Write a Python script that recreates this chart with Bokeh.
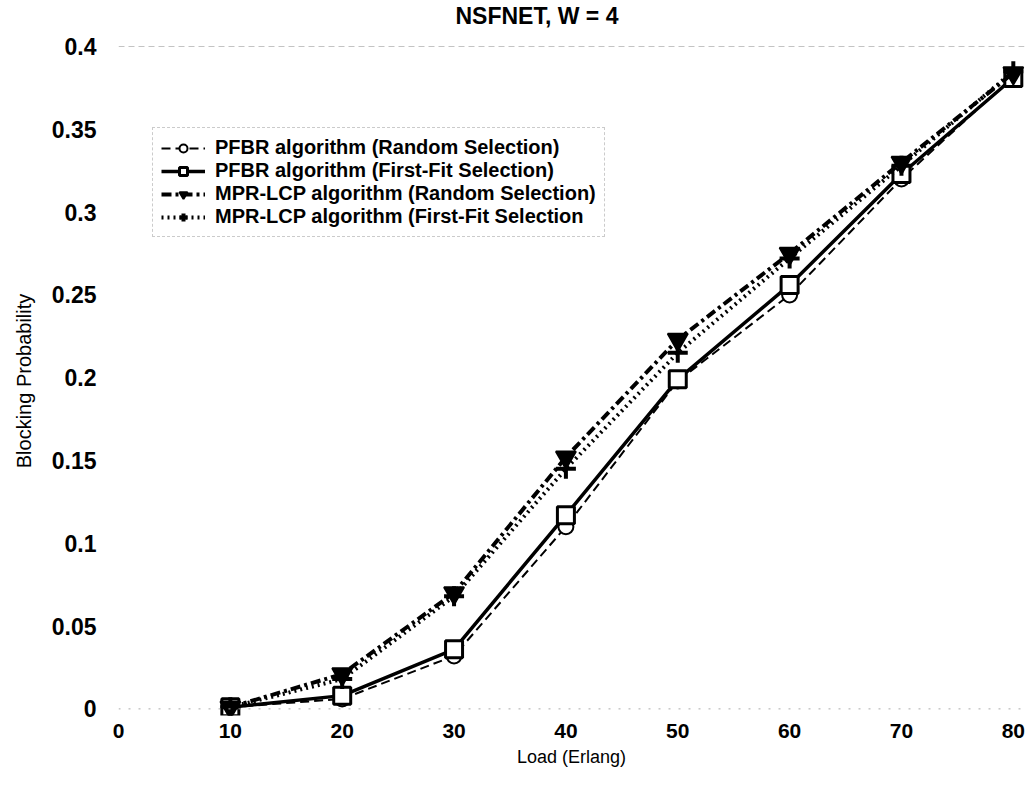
from bokeh.plotting import figure
from bokeh.models import Range1d, Legend, LegendItem, Span, FixedTicker, Title
from bokeh.embed import file_html
from bokeh.resources import INLINE

load = [10, 20, 30, 40, 50, 60, 70, 80]
pfbr_random = [0.001, 0.006, 0.032, 0.110, 0.198, 0.250, 0.320, 0.382]
pfbr_firstfit = [0.001, 0.008, 0.036, 0.117, 0.199, 0.256, 0.323, 0.381]
mpr_random = [0.001, 0.021, 0.070, 0.152, 0.223, 0.275, 0.330, 0.384]
mpr_firstfit = [0.001, 0.018, 0.068, 0.145, 0.215, 0.272, 0.328, 0.385]

x_ticks = [0, 10, 20, 30, 40, 50, 60, 70, 80]
y_ticks = [0, 0.05, 0.1, 0.15, 0.2, 0.25, 0.3, 0.35, 0.4]
y_tick_labels = {0: "0", 0.05: "0.05", 0.1: "0.1", 0.15: "0.15", 0.2: "0.2",
                 0.25: "0.25", 0.3: "0.3", 0.35: "0.35", 0.4: "0.4"}

FONT = "Liberation Sans"

p = figure(width=1033, height=804, output_backend="svg", toolbar_location=None,
           x_range=Range1d(0, 81), y_range=Range1d(-0.004, 0.4),
           min_border_left=118, min_border_right=9, min_border_top=2,
           min_border_bottom=89, title=None)

# spacer (closest to frame) then real title above it
p.add_layout(Title(text=" ", text_font_size="14px", standoff=0), "above")
p.add_layout(Title(text="NSFNET, W = 4", align="left", offset=337,
                   text_font=FONT, text_font_size="23px", text_color="black",
                   text_font_style="bold", standoff=0), "above")

p.xgrid.visible = False
p.ygrid.visible = False
p.outline_line_color = None

for ax in (p.xaxis[0], p.yaxis[0]):
    ax.axis_line_color = None
    ax.major_tick_line_color = None
    ax.minor_tick_line_color = None
    ax.major_label_text_font = FONT
    ax.major_label_text_font_style = "bold"
    ax.major_label_text_color = "black"
    ax.axis_label_text_font = FONT
    ax.axis_label_text_color = "black"
    ax.axis_label_text_font_style = "normal"

p.xaxis.major_label_text_font_size = "21px"
p.yaxis.major_label_text_font_size = "23px"
p.xaxis.axis_label_text_font_size = "18px"
p.yaxis.axis_label_text_font_size = "20px"
p.xaxis.ticker = FixedTicker(ticks=x_ticks)
p.yaxis.ticker = FixedTicker(ticks=y_ticks)
p.yaxis.major_label_overrides = y_tick_labels
p.xaxis.axis_label = "Load (Erlang)"
p.yaxis.axis_label = "Blocking Probability"
p.xaxis.major_label_standoff = 2
p.yaxis.major_label_standoff = 16
p.xaxis.axis_label_standoff = 6
p.yaxis.axis_label_standoff = 14

p.add_layout(Span(location=0.4, dimension="width", line_color="#888888",
                  line_dash="6 4", line_width=1))
p.add_layout(Span(location=0, dimension="width", line_color="#aaaaaa",
                  line_dash="2 8", line_width=1))

l1 = p.line(load, pfbr_random, line_color="black", line_width=2, line_dash="9 5")
m1 = p.scatter(load, pfbr_random, marker="circle", size=15, fill_color="white",
               line_color="black", line_width=2)
l2 = p.line(load, pfbr_firstfit, line_color="black", line_width=3.5)
m2 = p.scatter(load, pfbr_firstfit, marker="square", size=17, fill_color="white",
               line_color="black", line_width=3)
l3 = p.line(load, mpr_random, line_color="black", line_width=4, line_dash="10 4 3 4")
m3 = p.scatter(load, mpr_random, marker="inverted_triangle", size=20,
               fill_color="black", line_color="black", line_width=2)
l4 = p.line(load, mpr_firstfit, line_color="black", line_width=4, line_dash="2 4")
m4 = p.scatter(load, mpr_firstfit, marker="cross", size=20,
               line_color="black", line_width=4)

legend = Legend(items=[
    LegendItem(label="PFBR algorithm (Random Selection)", renderers=[l1, m1]),
    LegendItem(label="PFBR algorithm (First-Fit Selection)", renderers=[l2, m2]),
    LegendItem(label="MPR-LCP algorithm (Random Selection)", renderers=[l3, m3]),
    LegendItem(label="MPR-LCP algorithm (First-Fit Selection", renderers=[l4, m4]),
], location=(34, 478))
legend.label_text_font = FONT
legend.label_text_font_size = "20px"
legend.label_text_font_style = "bold"
legend.label_text_color = "black"
legend.glyph_width = 44
legend.glyph_height = 20
legend.label_height = 20
legend.spacing = 0
legend.padding = 8
legend.label_standoff = 10
legend.border_line_color = "#999999"
legend.border_line_dash = "6 4"
legend.border_line_alpha = 0.5
legend.background_fill_alpha = 0
p.add_layout(legend)

open("out.html", "w").write(file_html(p, INLINE))
